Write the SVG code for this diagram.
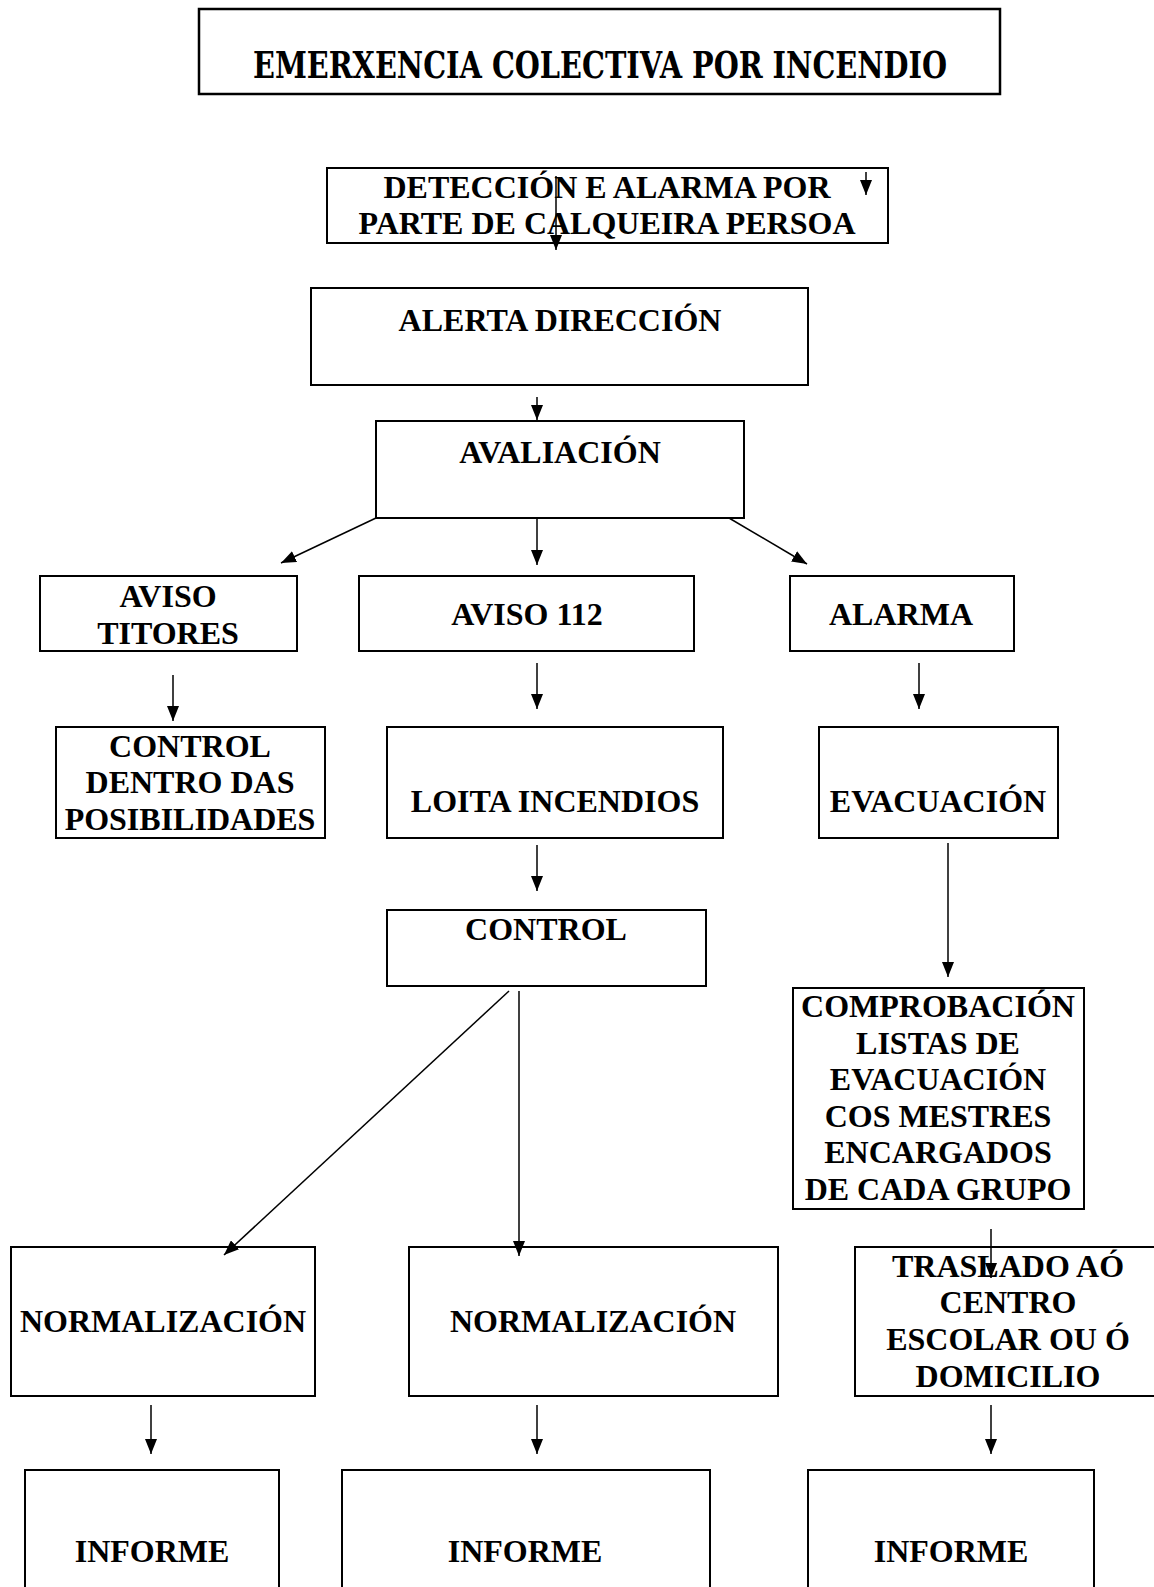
<svg xmlns="http://www.w3.org/2000/svg" width="1154" height="1587" viewBox="0 0 1154 1587">
<style>
.box{fill:#fff;stroke:#000;stroke-width:2}
.t{font-family:"Liberation Serif","Times New Roman",serif;font-weight:bold;font-size:32px;text-anchor:middle;fill:#000}
.title{font-family:"DejaVu Serif Condensed","Liberation Serif",serif;font-weight:bold;font-size:38px;text-anchor:middle;fill:#000}
.c{stroke:#000;stroke-width:1.5;fill:none;marker-end:url(#ah)}
</style>
<defs>
<marker id="ah" markerUnits="userSpaceOnUse" markerWidth="15" markerHeight="12" refX="15" refY="6" orient="auto">
<path d="M0,0 L15,6 L0,12 z" fill="#000"/>
</marker>
</defs>
<rect width="1154" height="1587" fill="#fff"/>
<g id="title">
<rect x="199" y="9" width="801" height="85" fill="#fff" stroke="#000" stroke-width="2.5"/>
<text class="title" x="600" y="78" textLength="694" lengthAdjust="spacingAndGlyphs">EMERXENCIA COLECTIVA POR INCENDIO</text>
</g>
<g id="n-deteccion">
<rect class="box" x="327" y="168" width="561" height="75"/>
<text class="t" x="607" y="198">DETECCIÓN E ALARMA POR</text>
<text class="t" x="607" y="234">PARTE DE CALQUEIRA PERSOA</text>
</g>
<g id="n-alerta">
<rect class="box" x="311" y="288" width="497" height="97"/>
<text class="t" x="560" y="331">ALERTA DIRECCIÓN</text>
</g>
<g id="n-avaliacion">
<rect class="box" x="376" y="421" width="368" height="97"/>
<text class="t" x="560" y="463">AVALIACIÓN</text>
</g>
<g id="n-aviso-titores">
<rect class="box" x="40" y="576" width="257" height="75"/>
<text class="t" x="168" y="607">AVISO</text>
<text class="t" x="168" y="644">TITORES</text>
</g>
<g id="n-aviso112">
<rect class="box" x="359" y="576" width="335" height="75"/>
<text class="t" x="527" y="625">AVISO 112</text>
</g>
<g id="n-alarma">
<rect class="box" x="790" y="576" width="224" height="75"/>
<text class="t" x="901" y="625">ALARMA</text>
</g>
<g id="n-control-dentro">
<rect class="box" x="56" y="727" width="269" height="111"/>
<text class="t" x="190" y="757">CONTROL</text>
<text class="t" x="190" y="793">DENTRO DAS</text>
<text class="t" x="190" y="830">POSIBILIDADES</text>
</g>
<g id="n-loita">
<rect class="box" x="387" y="727" width="336" height="111"/>
<text class="t" x="555" y="812">LOITA INCENDIOS</text>
</g>
<g id="n-evacuacion">
<rect class="box" x="819" y="727" width="239" height="111"/>
<text class="t" x="938" y="812">EVACUACIÓN</text>
</g>
<g id="n-control">
<rect class="box" x="387" y="910" width="319" height="76"/>
<text class="t" x="546" y="940">CONTROL</text>
</g>
<g id="n-comprobacion">
<rect class="box" x="793" y="988" width="291" height="221"/>
<text class="t" x="938" y="1017">COMPROBACIÓN</text>
<text class="t" x="938" y="1054">LISTAS DE</text>
<text class="t" x="938" y="1090">EVACUACIÓN</text>
<text class="t" x="938" y="1127">COS MESTRES</text>
<text class="t" x="938" y="1163">ENCARGADOS</text>
<text class="t" x="938" y="1200">DE CADA GRUPO</text>
</g>
<g id="n-normalizacion-1">
<rect class="box" x="11" y="1247" width="304" height="149"/>
<text class="t" x="163" y="1332">NORMALIZACIÓN</text>
</g>
<g id="n-normalizacion-2">
<rect class="box" x="409" y="1247" width="369" height="149"/>
<text class="t" x="593" y="1332">NORMALIZACIÓN</text>
</g>
<g id="n-traslado">
<rect class="box" x="855" y="1247" width="310" height="149"/>
<text class="t" x="1008" y="1277">TRASLADO AÓ</text>
<text class="t" x="1008" y="1313">CENTRO</text>
<text class="t" x="1008" y="1350">ESCOLAR OU Ó</text>
<text class="t" x="1008" y="1387">DOMICILIO</text>
</g>
<g id="n-informe-1">
<rect class="box" x="25" y="1470" width="254" height="130"/>
<text class="t" x="152" y="1562">INFORME</text>
</g>
<g id="n-informe-2">
<rect class="box" x="342" y="1470" width="368" height="130"/>
<text class="t" x="525" y="1562">INFORME</text>
</g>
<g id="n-informe-3">
<rect class="box" x="808" y="1470" width="286" height="130"/>
<text class="t" x="951" y="1562">INFORME</text>
</g>
<g id="connectors">
<line class="c" x1="866" y1="172" x2="866" y2="195"/>
<line class="c" x1="556" y1="176" x2="556" y2="250"/>
<line class="c" x1="537" y1="397" x2="537" y2="420"/>
<line class="c" x1="376" y1="518" x2="281" y2="563"/>
<line class="c" x1="537" y1="518" x2="537" y2="565"/>
<line class="c" x1="729" y1="518" x2="807" y2="564"/>
<line class="c" x1="173" y1="675" x2="173" y2="721"/>
<line class="c" x1="537" y1="663" x2="537" y2="709"/>
<line class="c" x1="919" y1="663" x2="919" y2="709"/>
<line class="c" x1="537" y1="845" x2="537" y2="891"/>
<line class="c" x1="948" y1="843" x2="948" y2="977"/>
<line class="c" x1="509" y1="991" x2="224" y2="1255"/>
<line class="c" x1="519" y1="991" x2="519" y2="1256"/>
<line class="c" x1="991" y1="1229" x2="991" y2="1278"/>
<line class="c" x1="151" y1="1405" x2="151" y2="1454"/>
<line class="c" x1="537" y1="1405" x2="537" y2="1454"/>
<line class="c" x1="991" y1="1405" x2="991" y2="1454"/>
</g>
</svg>
